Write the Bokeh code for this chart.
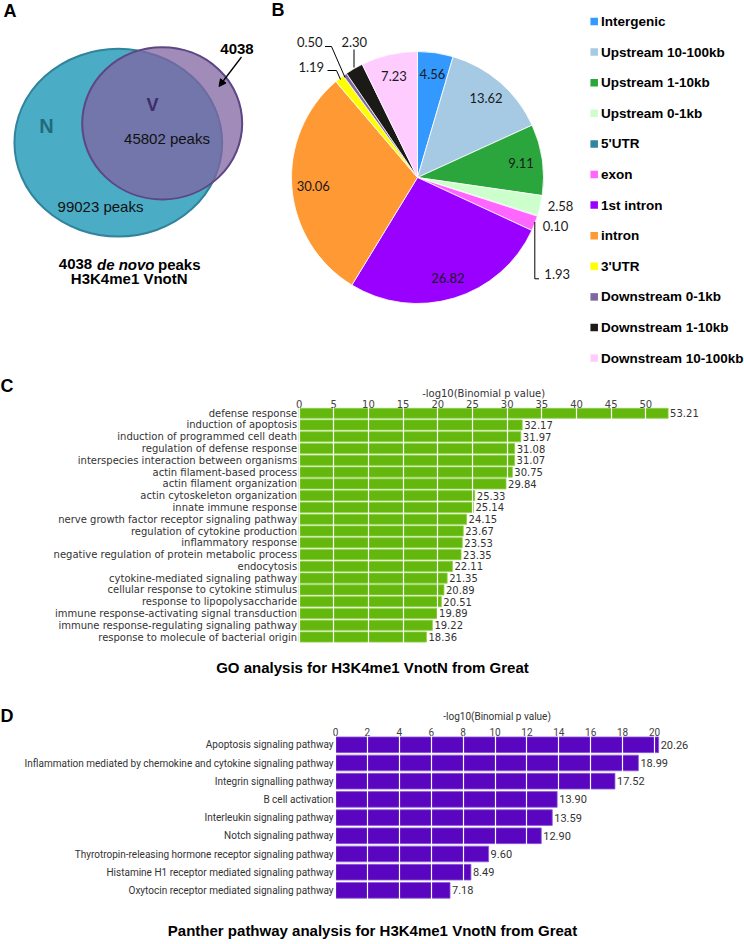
import numpy as np
from bokeh.plotting import figure
from bokeh.layouts import column, row
from bokeh.models import Range1d, FixedTicker, Arrow, NormalHead
from bokeh.core.properties import value
from bokeh.embed import file_html
from bokeh.resources import INLINE

# ---------------- data ----------------
venn_sets = ["N", "V"]
venn_n_peaks = 99023
venn_shared_peaks = 45802
venn_denovo_peaks = 4038

pie_categories = ["Intergenic", "Upstream 10-100kb", "Upstream 1-10kb", "Upstream 0-1kb",
                  "5'UTR", "exon", "1st intron", "intron", "3'UTR",
                  "Downstream 0-1kb", "Downstream 1-10kb", "Downstream 10-100kb"]
pie_values = [4.56, 13.62, 9.11, 2.58, 0.10, 1.93, 26.82, 30.06, 1.19, 0.50, 2.30, 7.23]
pie_colors = ["#3399ff", "#a6cae3", "#2ba63c", "#ccffcc", "#31859c", "#ff66ff",
              "#9900ff", "#ff9933", "#ffff00", "#7f679f", "#1c1a17", "#ffccff"]

go_terms = ["defense response", "induction of apoptosis", "induction of programmed cell death",
            "regulation of defense response", "interspecies interaction between organisms",
            "actin filament-based process", "actin filament organization",
            "actin cytoskeleton organization", "innate immune response",
            "nerve growth factor receptor signaling pathway", "regulation of cytokine production",
            "inflammatory response", "negative regulation of protein metabolic process",
            "endocytosis", "cytokine-mediated signaling pathway",
            "cellular response to cytokine stimulus", "response to lipopolysaccharide",
            "immune response-activating signal transduction",
            "immune response-regulating signaling pathway",
            "response to molecule of bacterial origin"]
go_values = [53.21, 32.17, 31.97, 31.08, 31.07, 30.75, 29.84, 25.33, 25.14, 24.15,
             23.67, 23.53, 23.35, 22.11, 21.35, 20.89, 20.51, 19.89, 19.22, 18.36]
go_ticks = [0, 5, 10, 15, 20, 25, 30, 35, 40, 45, 50]

panther_terms = ["Apoptosis signaling pathway",
                 "Inflammation mediated by chemokine and cytokine signaling pathway",
                 "Integrin signalling pathway", "B cell activation",
                 "Interleukin signaling pathway", "Notch signaling pathway",
                 "Thyrotropin-releasing hormone receptor signaling pathway",
                 "Histamine H1 receptor mediated signaling pathway",
                 "Oxytocin receptor mediated signaling pathway"]
panther_values = [20.26, 18.99, 17.52, 13.90, 13.59, 12.90, 9.60, 8.49, 7.18]
panther_ticks = [0, 2, 4, 6, 8, 10, 12, 14, 16, 18, 20]

AXIS_TITLE = "-log10(Binomial p value)"
GO_TITLE = "GO analysis for H3K4me1 VnotN from Great"
PANTHER_TITLE = "Panther pathway analysis for H3K4me1 VnotN from Great"

ARIAL = "Liberation Sans"
PAGE_W = 744


def txt(p, x, y, text, size, font=ARIAL, style="normal", color="black",
        align="center", baseline="middle", x_offset=0):
    if not isinstance(text, (list, tuple)):
        text = [text]
    n = len(text)
    if not isinstance(x, (list, tuple, np.ndarray)):
        x = [x] * n
    if not isinstance(y, (list, tuple, np.ndarray)):
        y = [y] * n
    p.text(x=list(x), y=list(y), text=list(text), text_font=value(font),
           text_font_size=size, text_font_style=style, text_color=color,
           text_align=align, text_baseline=baseline, x_offset=x_offset,
           level="overlay")


def blank_fig(w, h, xr, yr, **kw):
    p = figure(width=w, height=h, x_range=xr, y_range=yr, output_backend="svg",
               toolbar_location=None, min_border=0, **kw)
    p.outline_line_color = None
    return p


TOP_H = 373

# ---------------- Panel A : Venn ----------------
pA = blank_fig(258, TOP_H, Range1d(0, 258), Range1d(-TOP_H, 0),
               x_axis_location=None, y_axis_location=None)
pA.grid.visible = False
pA.ellipse(x=117.8, y=-142.2, width=207.7, height=187.7, fill_color="#4bacc6",
           line_color="#31849b", line_width=2)
pA.ellipse(x=161.7, y=-122.8, width=160, height=152.3, fill_color="#8064a2",
           fill_alpha=0.75, line_color="#5c4684", line_width=2)
txt(pA, 46, -125, venn_sets[0], "20px", style="bold", color="#1f6b7d")
txt(pA, 152, -104, venn_sets[1], "18px", style="bold", color="#3f2d68")
txt(pA, 166.5, -137.5, f"{venn_shared_peaks} peaks", "15px", color="#111111")
txt(pA, 100, -205.5, f"{venn_n_peaks} peaks", "15px", color="#111111")
txt(pA, 236.5, -48, f"{venn_denovo_peaks}", "15px", style="bold")
pA.add_layout(Arrow(end=NormalHead(size=7, fill_color="black", line_color="black"),
                    x_start=241, y_start=-56.5, x_end=218.5, y_end=-86,
                    line_width=1.3, line_color="black"))
txt(pA, 58.3, -263.5, f"{venn_denovo_peaks}", "15px", style="bold", align="left")
txt(pA, 96.5, -263.5, "de novo", "15px", style="bold italic", align="left")
txt(pA, 157.5, -263.5, "peaks", "15px", style="bold", align="left")
txt(pA, 128.7, -277.5, "H3K4me1 VnotN", "15px", style="bold")
txt(pA, 3, -10, "A", "18px", style="bold", align="left")

# ---------------- Panel B : Pie ----------------
pB = blank_fig(PAGE_W - 258, TOP_H, Range1d(258, PAGE_W), Range1d(-TOP_H, 0),
               x_axis_location=None, y_axis_location=None)
pB.grid.visible = False
cx, cy, R = 417.0, -177.0, 126.0
vals = np.array(pie_values)
frac = vals / vals.sum()
cum = np.concatenate([[0.0], np.cumsum(frac)])
start_ang = np.pi / 2 - 2 * np.pi * cum[1:]
end_ang = np.pi / 2 - 2 * np.pi * cum[:-1]
pB.wedge(x=[cx] * len(vals), y=[cy] * len(vals), radius=R, start_angle=list(start_ang),
         end_angle=list(end_ang), fill_color=pie_colors, line_color="white", line_width=0.8)

mid = np.pi / 2 - 2 * np.pi * (cum[1:] + cum[:-1]) / 2
inner = [i for i, v in enumerate(pie_values) if v >= 4]
txt(pB, [cx + 0.83 * R * np.cos(mid[i]) for i in inner],
    [cy + 0.83 * R * np.sin(mid[i]) for i in inner],
    [f"{pie_values[i]:.2f}" for i in inner], "13px", font="Lato", color="#1a1a1a")

outer_pos = {3: (560, -205), 4: (555, -225.7), 5: (556.7, -273),
             8: (310.8, -66.7), 9: (309.3, -41.7), 10: (353.8, -41.3)}
txt(pB, [outer_pos[i][0] for i in outer_pos], [outer_pos[i][1] for i in outer_pos],
    [f"{pie_values[i]:.2f}" for i in outer_pos], "13px", font="Lato", color="#1a1a1a")
pB.multi_line(xs=[[324.5, 331, 344.5], [327, 336, 340], [353.5, 353.5], [534.3, 534.3, 538.5]],
              ys=[[-46, -46, -77], [-70, -70, -79], [-49, -67], [-221.5, -278.3, -278.3]],
              line_color="black", line_width=1)

leg_y = [-(21 + 30.6 * i) for i in range(len(pie_categories))]
pB.scatter(x=[593.7] * len(pie_categories), y=leg_y, marker="square", size=7.5,
           fill_color=pie_colors, line_color=None)
txt(pB, [600.5] * len(pie_categories), leg_y, pie_categories, "13.5px", style="bold",
    align="left")
txt(pB, 271, -9, "B", "18px", style="bold", align="left")


# ---------------- bar panel helper ----------------
def bar_panel(terms, vals_, ticks, height, top_px, zero_px, ppu, row0_px, spacing,
              page_top, color, edge, font, fsize, tick_size, val_size,
              label, label_y, axis_title_y, title, title_y):
    x0 = -zero_px / ppu
    x1 = (PAGE_W - zero_px) / ppu
    frame_top_page = page_top + top_px
    y_top = (row0_px - frame_top_page) / spacing
    y_bot = -(page_top + height - row0_px) / spacing

    def X(px):
        return x0 + px / ppu

    def Y(py):
        return -(py - row0_px) / spacing

    p = blank_fig(PAGE_W, height, Range1d(x0, x1), Range1d(y_bot, y_top),
                  x_axis_location="above", y_axis_location=None, min_border_top=top_px)
    ys = [-i for i in range(len(terms))]
    p.hbar(y=ys, left=0, right=vals_, height=0.86, fill_color=color, line_color=edge,
           line_width=0.8)
    ax = p.xaxis[0]
    ax.ticker = FixedTicker(ticks=ticks)
    ax.axis_line_color = None
    ax.major_tick_line_color = None
    ax.minor_tick_line_color = None
    ax.major_tick_out = 0
    ax.major_tick_in = 0
    ax.minor_tick_out = 0
    ax.major_label_standoff = 0
    ax.major_label_text_font = font
    ax.major_label_text_font_size = tick_size
    ax.major_label_text_color = "#444444"
    p.xgrid.ticker = FixedTicker(ticks=ticks)
    p.xgrid.grid_line_color = "white"
    p.xgrid.grid_line_width = 1.2
    p.xgrid.level = "annotation"
    p.ygrid.visible = False
    txt(p, [0] * len(terms), ys, terms, fsize, font=font, color="#333333",
        align="right", x_offset=-2)
    txt(p, vals_, ys, [f"{v:.2f}" for v in vals_], val_size, font=font, color="#333333",
        align="left", x_offset=2)
    txt(p, max(vals_) / 2, Y(axis_title_y), AXIS_TITLE, tick_size, font=font, color="#333333")
    txt(p, X(0), Y(label_y), label, "18px", style="bold", align="left")
    txt(p, X(PAGE_W / 2), Y(title_y), title, "15px", style="bold")
    return p


pC = bar_panel(go_terms, go_values, go_ticks, 330, 34, 298.6, 6.935, 412.7, 11.78,
               373, "#64b80d", "#8fd14a", "DejaVu Sans", "10px", "10px", "10px",
               "C", 385, 393, GO_TITLE, 667)
pD = bar_panel(panther_terms, panther_values, panther_ticks, 237, 32, 335.0, 15.95, 744.3,
               18.2, 703, "#5a05bf", "#8d5ad8", "Roboto", "10px", "10px",
               "11px", "D", 715, 716, PANTHER_TITLE, 930)

layout = column(row(pA, pB), pC, pD)
open("out.html", "w").write(file_html(layout, INLINE))
